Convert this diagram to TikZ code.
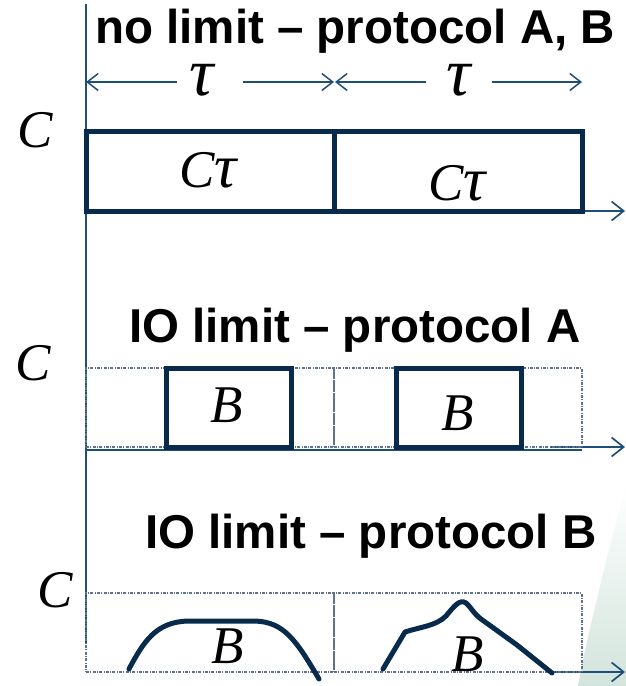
\documentclass[tikz,border=0pt]{standalone}
\usepackage{fontspec}
\usetikzlibrary{arrows.meta}
\newfontfamily\headfont{Liberation Sans}
\newfontfamily\symfont{Liberation Serif}

\definecolor{navy}{RGB}{8,42,76}
\definecolor{axisblue}{RGB}{31,78,121}
\definecolor{slotgray}{RGB}{95,115,140}
\definecolor{leafgreen}{RGB}{210,228,220}

\tikzset{
  axisline/.style={draw=axisblue, line width=1.6pt},
  axisarrow/.style={axisline, -{Straight Barb[length=12pt,width=19pt,line width=1.7pt]}},
  dimarrow/.style={axisline, line width=1.4pt, -{Straight Barb[length=11pt,width=17pt,line width=1.5pt]}},
  framebox/.style={draw=navy, line width=5pt, inner sep=0pt, outer sep=0pt, anchor=north west},
  slotbox/.style={draw=slotgray, line width=1.1pt, dash pattern=on 3pt off 1.3pt on 1pt off 1.3pt,
                  inner sep=0pt, outer sep=0pt, anchor=north west},
  curveline/.style={draw=navy, line width=5pt, line cap=round, line join=round},
  headline/.style={inner sep=0pt, anchor=base west, font=\headfont\bfseries\fontsize{47.5}{50}\selectfont},
  symlabel/.style={inner sep=0pt, anchor=base, font=\symfont\itshape\fontsize{53}{53}\selectfont},
  taulabel/.style={symlabel, font=\symfont\itshape\fontsize{68}{68}\selectfont, text height=30pt, text depth=0pt},
}

\begin{document}
\begin{tikzpicture}[x=1pt, y=-1pt]
\useasboundingbox (0,0) rectangle (626,686);

% pale green leaf in the lower right corner
\shade[top color=white, bottom color=leafgreen, draw=none]
  (626,485) .. controls (606,560) and (588,632) .. (578,686) -- (626,686) -- cycle;

% ---------- axes ----------
\coordinate (vtop) at (86,4);
\coordinate (vbot) at (86,643);
\draw[axisline] (vtop) -- (vbot);

\coordinate (h1a) at (86,211);
\coordinate (h1b) at (625,211);
\draw[axisarrow] (h1a) -- (h1b);

\coordinate (h2a) at (86,450);
\coordinate (h2b) at (582,450);
\draw[axisline] (h2a) -- (h2b);
\coordinate (h2c) at (550,447);
\coordinate (h2d) at (625,447);
\draw[axisarrow] (h2c) -- (h2d);

\coordinate (h3c) at (552,672);
\coordinate (h3d) at (625,672);
\draw[axisarrow] (h3c) -- (h3d);

% ---------- panel 1: no limit ----------
\node[headline] (title1) at (95,43) {no limit – protocol A, B};

\coordinate (d1l) at (86,82);
\coordinate (d1la) at (177,82);
\coordinate (d1ra) at (243,82);
\coordinate (d1r) at (334,82);
\coordinate (d2l) at (335,82);
\coordinate (d2la) at (426,82);
\coordinate (d2ra) at (492,82);
\coordinate (d2r) at (582,82);
\draw[dimarrow] (d1la) -- (d1l);
\draw[dimarrow] (d1ra) -- (d1r);
\draw[dimarrow] (d2la) -- (d2l);
\draw[dimarrow] (d2ra) -- (d2r);
\node[taulabel] (tau1) at (202,95) {τ};
\node[taulabel] (tau2) at (459,95) {τ};

\node[symlabel] (c1) at (35,147) {C};
\node[framebox, minimum width=248pt, minimum height=80pt] (ct1) at (86,131) {};
\node[framebox, minimum width=248pt, minimum height=80pt] (ct2) at (334,131) {};
\node[symlabel] (ct1lab) at (208,187) {C{\fontsize{62}{62}\selectfont τ}};
\node[symlabel] (ct2lab) at (457,200) {C{\fontsize{62}{62}\selectfont τ}};

% ---------- panel 2: IO limit, protocol A ----------
\node[headline] (title2) at (129,342) {IO limit – protocol A};
\node[symlabel] (c2) at (33,380) {C};
\node[slotbox, minimum width=248pt, minimum height=79pt] (s2a) at (86,368) {};
\node[slotbox, minimum width=248pt, minimum height=79pt] (s2b) at (334,368) {};
\node[framebox, minimum width=125pt, minimum height=79pt] (b2a) at (166,368) {};
\node[framebox, minimum width=125pt, minimum height=79pt] (b2b) at (396,368) {};
\node[symlabel] (b2alab) at (227,422) {B};
\node[symlabel] (b2blab) at (458,430) {B};

% ---------- panel 3: IO limit, protocol B ----------
\node[headline] (title3) at (145,548) {IO limit – protocol B};
\node[symlabel] (c3) at (55,607) {C};
\node[slotbox, minimum width=248pt, minimum height=79pt] (s3a) at (86,593) {};
\node[slotbox, minimum width=248pt, minimum height=79pt] (s3b) at (334,593) {};

% flat-topped transfer
\draw[curveline] (129,669) .. controls (144,641) and (156,622) .. (188,621)
  -- (255,621) .. controls (284,622) and (296,640) .. (319,679);
% peaked transfer
\draw[curveline] (383,669) -- (405,632)
  .. controls (420,627) and (436,626) .. (446,616)
  .. controls (455,605) and (460,599) .. (466,603)
  .. controls (470,606) and (474,614) .. (481,619)
  -- (517,645) -- (552,673);

\node[symlabel] (b3alab) at (228,663) {B};
\node[symlabel] (b3blab) at (468,671) {B};
\end{tikzpicture}
\end{document}
